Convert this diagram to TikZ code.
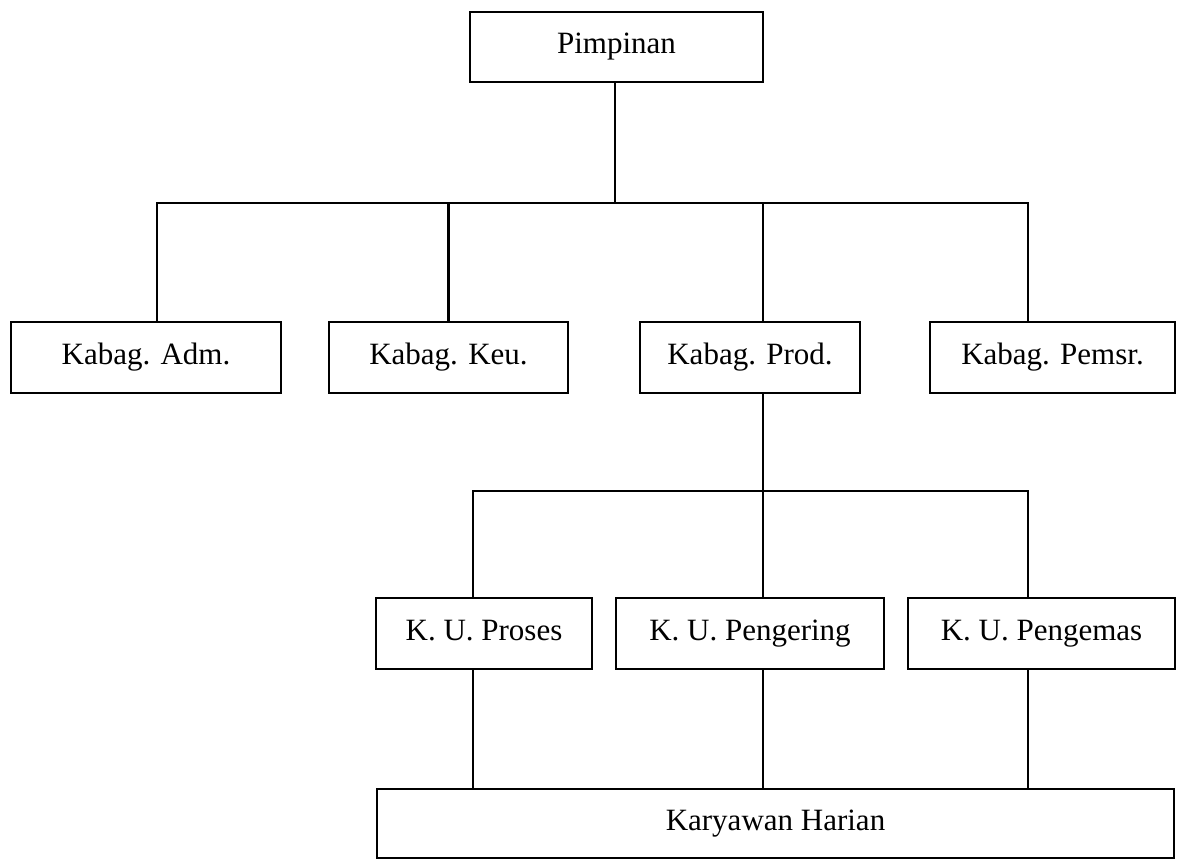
\documentclass[tikz,border=0pt]{standalone}
\usepackage{fontspec}
\setmainfont{Liberation Serif}
\begin{document}
\begin{tikzpicture}[x=1pt,y=-1pt,
  box/.style={draw, line width=2.8pt, rectangle, inner sep=0pt, text height=21pt, text depth=7pt, font=\fontsize{31}{37}\selectfont},
  conn/.style={line width=2.5pt}]
\useasboundingbox (0,0) rectangle (1177,861);
% boxes
\node[box, minimum width=293pt, minimum height=70pt] (pim) at (616.5,47) {Pimpinan};
\node[box, minimum width=270pt, minimum height=71pt] (adm) at (146,357.5) {Kabag. Adm.};
\node[box, minimum width=239pt, minimum height=71pt] (keu) at (448.5,357.5) {Kabag. Keu.};
\node[box, minimum width=220pt, minimum height=71pt] (prod) at (750,357.5) {Kabag. Prod.};
\node[box, minimum width=245pt, minimum height=71pt] (pem) at (1052.5,357.5) {Kabag. Pemsr.};
\node[box, minimum width=216pt, minimum height=71pt] (pro) at (484,633.5) {K. U. Proses};
\node[box, minimum width=268pt, minimum height=71pt] (pgr) at (750,633.5) {K. U. Pengering};
\node[box, minimum width=267pt, minimum height=71pt] (pgm) at (1041.5,633.5) {K. U. Pengemas};
\node[box, minimum width=797pt, minimum height=69pt] (kar) at (775.5,823.5) {Karyawan Harian};
% junction coordinates
\coordinate (top) at (615,203);
\coordinate (bL) at (157,203);
\coordinate (bK) at (448.5,203);
\coordinate (bP) at (763,203);
\coordinate (bR) at (1028,203);
\coordinate (sL) at (473,491);
\coordinate (sM) at (763,491);
\coordinate (sR) at (1028,491);
% connectors
\draw[conn] (pim.south -| top) -- (top);
\draw[conn] (bL |- adm.north) -- (bL) -- (bR) -- (bR |- pem.north);
\draw[conn] (bK) -- (bK |- keu.north);
\draw[conn] (bP) -- (bP |- prod.north);
\draw[conn] (sM |- prod.south) -- (sM);
\draw[conn] (sL |- pro.north) -- (sL) -- (sR) -- (sR |- pgm.north);
\draw[conn] (sM) -- (sM |- pgr.north);
\draw[conn] (sL |- pro.south) -- (sL |- kar.north);
\draw[conn] (sM |- pgr.south) -- (sM |- kar.north);
\draw[conn] (sR |- pgm.south) -- (sR |- kar.north);
\end{tikzpicture}
\end{document}
